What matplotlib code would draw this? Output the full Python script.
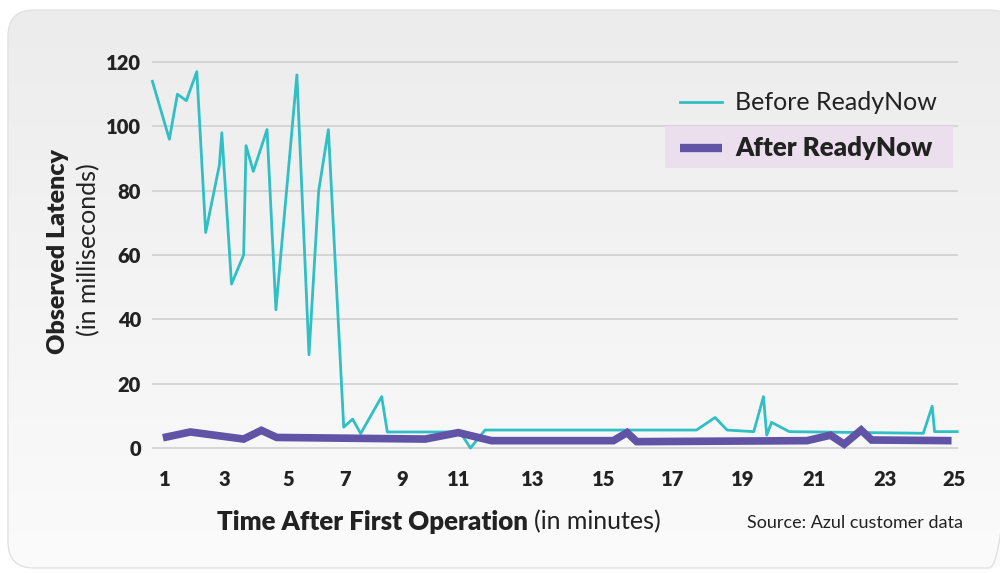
import numpy as np
import matplotlib.pyplot as plt
from matplotlib.patches import FancyBboxPatch, Rectangle
from matplotlib.colors import LinearSegmentedColormap

# x = sample position along the time axis (0..100 across the plot area)
before_x = [0.3, 2.4, 3.4, 4.5, 5.8, 6.9, 8.6, 8.9, 10.1, 11.6, 11.9, 12.8, 14.5, 15.6,
            18.2, 19.7, 20.9, 22.1, 24.0, 25.1, 26.1, 28.7, 29.4, 38.4, 39.7, 41.5,
            67.7, 70.0, 71.5, 74.8, 76.0, 76.4, 77.0, 79.2, 95.8, 96.9, 97.2, 100.0]
before_y = [114, 96, 110, 108, 117, 67, 88, 98, 51, 60, 94, 86, 99, 43,
            116, 29, 80, 99, 6.5, 9, 4.5, 16, 5, 5, 0, 5.6,
            5.6, 9.5, 5.6, 5.1, 16, 4, 8, 5.1, 4.6, 13, 5.1, 5.1]

after_x = [1.6, 5.0, 11.6, 13.8, 15.7, 34.1, 38.2, 42.3, 57.4, 59.1, 60.3,
           81.4, 84.3, 86.0, 88.1, 89.4, 99.3]
after_y = [3.2, 5.0, 2.8, 5.5, 3.3, 2.8, 4.8, 2.3, 2.3, 4.8, 2.0,
           2.3, 4.0, 1.2, 5.6, 2.5, 2.3]

tick_pos = [1.86, 9.2, 17.1, 24.2, 31.3, 38.3, 47.4, 56.2, 64.8, 73.4, 82.3, 91.1, 99.6]
tick_labels = ['1', '3', '5', '7', '9', '11', '13', '15', '17', '19', '21', '23', '25']
y_ticks = [0, 20, 40, 60, 80, 100, 120]

TEAL = '#30bfc4'
PURPLE = '#6153a6'
TEXT = '#222222'
HEAVY = 'heavy'

plt.rcParams['font.family'] = ['Lato', 'DejaVu Sans']

fig = plt.figure(figsize=(10, 5.73), dpi=100)

# rounded grey panel behind everything (pixel coordinates)
bg = fig.add_axes([0, 0, 1, 1], zorder=-10)
bg.set_xlim(0, 1000)
bg.set_ylim(573, 0)
bg.axis('off')
grad = np.linspace(0, 1, 256).reshape(-1, 1)
cmap = LinearSegmentedColormap.from_list('panel', ['#ececed', '#fbfbfb'])
im = bg.imshow(grad, cmap=cmap, extent=[8, 1015, 568, 10], aspect='auto')
panel = FancyBboxPatch((8, 10), 1007, 558, boxstyle='round,pad=0,rounding_size=26',
                       fc='none', ec='#e2e2e2', lw=1)
bg.add_patch(panel)
im.set_clip_path(panel)

# main plot
ax = fig.add_axes([0.152, 0.2012, 0.806, 0.7074])
ax.patch.set_alpha(0)
ax.set_xlim(0.25, 100.1)
ax.set_ylim(-3, 123)
for s in ax.spines.values():
    s.set_visible(False)
ax.set_yticks(y_ticks)
ax.set_xticks(tick_pos)
ax.set_xticklabels(tick_labels)
ax.yaxis.grid(True, color='#d0d0d0', lw=1.2)
ax.set_axisbelow(True)
ax.tick_params(length=0, labelsize=14.5, labelcolor=TEXT)
ax.tick_params(axis='y', pad=8)
ax.tick_params(axis='x', pad=9)
for lab in ax.get_xticklabels() + ax.get_yticklabels():
    lab.set_fontweight(HEAVY)

ax.plot(before_x, before_y, color=TEAL, lw=2.0, clip_on=False, zorder=3)
ax.plot(after_x, after_y, color=PURPLE, lw=5.5, solid_capstyle='butt',
        solid_joinstyle='miter', clip_on=False, zorder=4)

# overlay for labels and legend (pixel coordinates)
top = fig.add_axes([0, 0, 1, 1], zorder=10)
top.set_xlim(0, 1000)
top.set_ylim(573, 0)
top.axis('off')

top.text(58, 252, 'Observed Latency', rotation=90, ha='center', va='center',
         fontsize=18, fontweight=HEAVY, color=TEXT)
top.text(89, 250, '(in milliseconds)', rotation=90, ha='center', va='center',
         fontsize=18, color=TEXT)

t1 = top.text(217, 522, 'Time After First Operation', ha='left', va='center',
              fontsize=18.6, fontweight=HEAVY, color=TEXT)
fig.canvas.draw()
bb = t1.get_window_extent().transformed(top.transData.inverted())
top.text(bb.x1 + 6, 522, '(in minutes)', ha='left', va='center',
         fontsize=18, color=TEXT)
top.text(963, 523, 'Source: Azul customer data', ha='right', va='center',
         fontsize=13, color=TEXT)

# legend
top.add_patch(Rectangle((665, 126), 288, 42, fc='#ebdfed', ec='none'))
top.plot([680, 722], [102, 102], color=TEAL, lw=2.0)
top.text(735, 102, 'Before ReadyNow', ha='left', va='center', fontsize=18, color=TEXT)
top.plot([680, 722], [148, 148], color=PURPLE, lw=6, solid_capstyle='butt')
top.text(735, 148, 'After ReadyNow', ha='left', va='center', fontsize=18.6,
         fontweight=HEAVY, color=TEXT)

fig.savefig('out.png', dpi=100)
